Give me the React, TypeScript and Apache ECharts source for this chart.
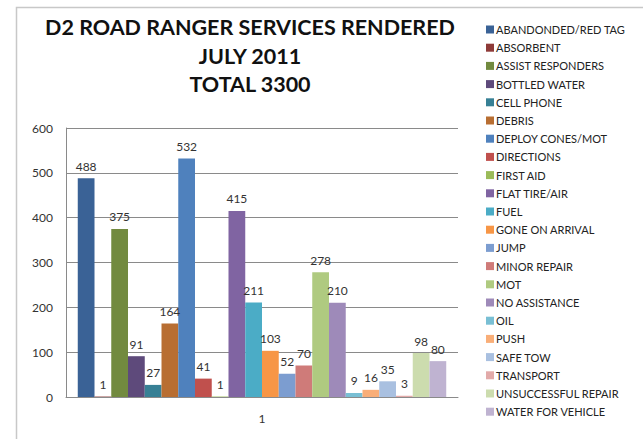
import React, { useEffect, useRef } from "react";
import * as echarts from "echarts";

const categories = ["1"];
const seriesNames = [
  "ABANDONDED/RED TAG",
  "ABSORBENT",
  "ASSIST RESPONDERS",
  "BOTTLED WATER",
  "CELL PHONE",
  "DEBRIS",
  "DEPLOY CONES/MOT",
  "DIRECTIONS",
  "FIRST AID",
  "FLAT TIRE/AIR",
  "FUEL",
  "GONE ON ARRIVAL",
  "JUMP",
  "MINOR REPAIR",
  "MOT",
  "NO ASSISTANCE",
  "OIL",
  "PUSH",
  "SAFE TOW",
  "TRANSPORT",
  "UNSUCCESSFUL REPAIR",
  "WATER FOR VEHICLE",
];
const seriesValues = [488, 1, 375, 91, 27, 164, 532, 41, 1, 415, 211, 103, 52, 70, 278, 210, 9, 16, 35, 3, 98, 80];
const seriesColors = [
  "#3A6296", "#8E3A38", "#728A3F", "#5E4A7B", "#378095", "#B86E32",
  "#4F81BD", "#C0504D", "#9BBB59", "#8064A2", "#4BACC6", "#F79646",
  "#7C9DD0", "#CF7B79", "#AFCA80", "#9E8AB9", "#79BFD4", "#F9AE78",
  "#A9C0E0", "#E2AAA9", "#CCDCAE", "#BFB3D1",
];
const titleLines = ["D2 ROAD RANGER SERVICES RENDERED", "JULY 2011", "TOTAL 3300"];
const yTicks = { min: 0, max: 600, interval: 100 };

const FONT = "Lato, 'Open Sans', sans-serif";

export default function App() {
  const ref = useRef<HTMLDivElement>(null);
  useEffect(() => {
    document.body.style.margin = "0";
    if (!ref.current) return;
    const chart = echarts.init(ref.current, undefined, { renderer: "svg" });
    chart.setOption({
      animation: false,
      backgroundColor: "#ffffff",
      graphic: [
        {
          type: "rect",
          shape: { x: 16.5, y: 7.5, width: 640, height: 440 },
          style: { fill: "none", stroke: "#c8c8c8", lineWidth: 1.5 },
          silent: true,
        },
      ],
      title: {
        text: titleLines.join("\n"),
        left: 245,
        top: 8,
        textAlign: "center",
        textStyle: {
          fontFamily: FONT,
          fontWeight: "bold",
          fontSize: 21.5,
          lineHeight: 28.5,
          color: "#111111",
        },
      },
      legend: {
        orient: "vertical",
        left: 481,
        top: 18,
        itemWidth: 8,
        itemHeight: 8,
        itemGap: 5.2,
        icon: "rect",
        textStyle: { fontFamily: FONT, fontSize: 11, color: "#222222", padding: [0, 0, 0, -3], lineHeight: 13 },
        data: seriesNames,
      },
      grid: { left: 66, right: 185, top: 128, bottom: 42, containLabel: false },
      xAxis: {
        type: "category",
        data: categories,
        axisLine: { show: true, lineStyle: { color: "#8a8a8a", width: 1 } },
        axisTick: { show: false },
        axisLabel: { fontFamily: FONT, fontSize: 12, color: "#333333", margin: 15 },
      },
      yAxis: {
        type: "value",
        min: yTicks.min,
        max: yTicks.max,
        interval: yTicks.interval,
        axisLine: { show: true, lineStyle: { color: "#8a8a8a", width: 1 } },
        axisTick: { show: false },
        splitLine: { lineStyle: { color: "#8a8a8a", width: 1 } },
        axisLabel: { fontFamily: FONT, fontSize: 12, color: "#333333", margin: 13 },
      },
      series: seriesNames.map((name, i) => ({
        name,
        type: "bar",
        data: [seriesValues[i]],
        barGap: "0%",
        barCategoryGap: "6%",
        itemStyle: { color: seriesColors[i] },
        label: {
          show: true,
          position: "top",
          distance: 6,
          fontFamily: FONT,
          fontSize: 12,
          color: "#333333",
        },
      })),
    });
    return () => chart.dispose();
  }, []);
  return <div ref={ref} style={{ width: 643, height: 439 }} />;
}
